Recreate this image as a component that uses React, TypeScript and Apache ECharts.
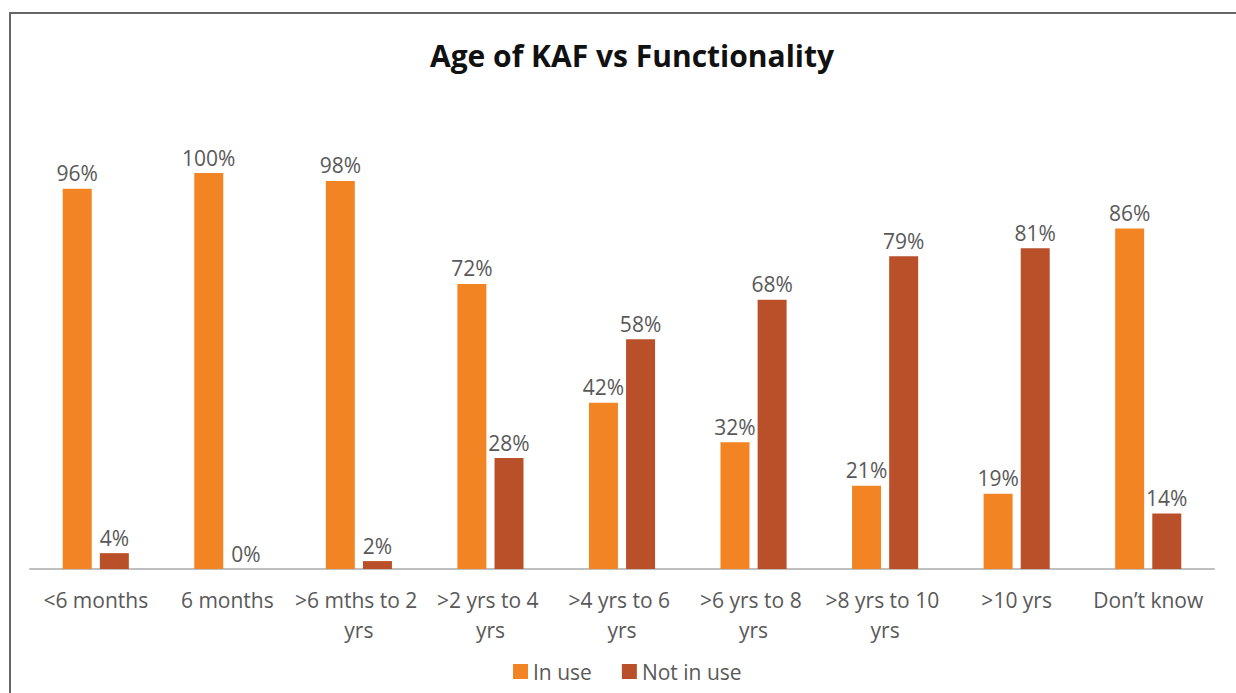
import React, { useEffect, useRef } from "react";
import * as echarts from "echarts";

const categories = [
  "<6 months",
  "6 months",
  ">6 mths to 2 yrs",
  ">2 yrs to 4 yrs",
  ">4 yrs to 6 yrs",
  ">6 yrs to 8 yrs",
  ">8 yrs to 10 yrs",
  ">10 yrs",
  "Don\u2019t know",
];
const inUse = [96, 100, 98, 72, 42, 32, 21, 19, 86];
const notInUse = [4, 0, 2, 28, 58, 68, 79, 81, 14];

const FONT = "'Open Sans', 'Noto Sans', sans-serif";
const GRAY = "#595959";

export default function App() {
  const ref = useRef<HTMLDivElement>(null);
  useEffect(() => {
    if (!ref.current) return;
    const chart = echarts.init(ref.current, undefined, { renderer: "svg" });
    const labelStyle = {
      show: true,
      position: "top",
      distance: 5,
      formatter: "{c}%",
      color: GRAY,
      fontSize: 21,
      fontFamily: FONT,
    };
    chart.setOption({
      animation: false,
      backgroundColor: "#fff",
      title: {
        text: "Age of KAF vs Functionality",
        left: 627,
        top: 35,
        textAlign: "center",
        textStyle: { fontSize: 30, fontWeight: "bold", color: "#111", fontFamily: FONT },
      },
      legend: {
        top: 656,
        left: 508,
        itemWidth: 15,
        itemHeight: 15,
        itemGap: 30,
        icon: "rect",
        textStyle: { fontSize: 21, color: GRAY, fontFamily: FONT },
        data: ["In use", "Not in use"],
      },
      graphic: [
        { type: "line", shape: { x1: 10, y1: 13, x2: 10, y2: 693 }, style: { stroke: "#666", lineWidth: 2 } },
        { type: "line", shape: { x1: 9, y1: 13, x2: 1236, y2: 13 }, style: { stroke: "#666", lineWidth: 2 } },
      ],
      grid: { left: 30, right: 22, top: 173, bottom: 124 },
      xAxis: {
        type: "category",
        data: categories,
        axisLine: { lineStyle: { color: "#bfbfbf", width: 2 } },
        axisTick: { show: false },
        axisLabel: {
          color: GRAY,
          fontSize: 21,
          fontFamily: FONT,
          margin: 16,
          lineHeight: 30,
          width: 130,
          overflow: "break",
          interval: 0,
        },
      },
      yAxis: { type: "value", min: 0, max: 100, show: false, splitLine: { show: false } },
      series: [
        {
          name: "In use",
          type: "bar",
          data: inUse,
          barWidth: 29,
          barGap: "28%",
          itemStyle: { color: "#F28424" },
          label: labelStyle,
        },
        {
          name: "Not in use",
          type: "bar",
          data: notInUse,
          barWidth: 29,
          itemStyle: { color: "#BA5029" },
          label: labelStyle,
        },
      ],
    });
    return () => chart.dispose();
  }, []);
  return (
    <div
      ref={ref}
      style={{ position: "fixed", left: 0, top: 0, width: 1236, height: 693 }}
    />
  );
}
